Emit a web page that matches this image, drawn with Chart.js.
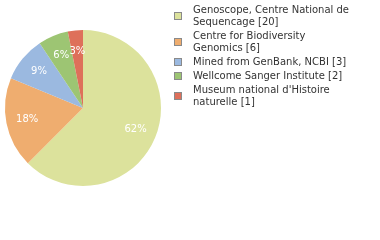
<!DOCTYPE html>
<html>
<head>
<meta charset="utf-8">
<script src="https://cdn.jsdelivr.net/npm/chart.js@4.4.1/dist/chart.umd.min.js"></script>
<style>
  body { margin: 0; background: #fff; }
  #wrap { position: relative; width: 380px; height: 240px; }
  #legend {
    position: absolute; left: 174px; top: 4px; width: 190px;
    font-family: "DejaVu Sans", sans-serif; font-size: 10px; line-height: 12px; color: #333;
  }
  .item { display: flex; align-items: center; margin-bottom: 2px; }
  .box { width: 6px; height: 6px; border: 1px solid #8a8a8a; margin-right: 11px; flex: none; }
  .txt { width: 160px; }
</style>
</head>
<body>
<div id="wrap">
  <canvas id="pie" width="380" height="240"></canvas>
  <div id="legend"></div>
</div>
<script>
// the values
const labels = [
  "Genoscope, Centre National de Sequencage",
  "Centre for Biodiversity Genomics",
  "Mined from GenBank, NCBI",
  "Wellcome Sanger Institute",
  "Museum national d'Histoire naturelle"
];
const counts = [20, 6, 3, 2, 1];
const colours = ["#dce29c", "#efad6f", "#9bb9e0", "#9dc573", "#de705a"];

// white percentage labels inside the slices (truncated, like the original)
const pctLabels = {
  id: "pctLabels",
  afterDatasetsDraw(chart) {
    const ctx = chart.ctx;
    const total = counts.reduce((a, b) => a + b, 0);
    ctx.save();
    ctx.fillStyle = "#fff";
    ctx.font = "10px 'DejaVu Sans'";
    ctx.textAlign = "center";
    ctx.textBaseline = "middle";
    chart.getDatasetMeta(0).data.forEach((arc, i) => {
      const mid = (arc.startAngle + arc.endAngle) / 2;
      const r = arc.outerRadius * 0.73;
      const txt = Math.floor(counts[i] / total * 100) + "%";
      ctx.fillText(txt, arc.x + Math.cos(mid) * r, arc.y + Math.sin(mid) * r);
    });
    ctx.restore();
  }
};

new Chart("pie", {
  type: "pie",
  data: {
    labels: labels,
    datasets: [{
      data: counts,
      backgroundColor: colours,
      borderWidth: 0
    }]
  },
  options: {
    responsive: false,
    animation: false,
    layout: { padding: { left: 5, right: 219, top: 30, bottom: 54 } },
    plugins: { legend: { display: false }, tooltip: { enabled: false } }
  },
  plugins: [pctLabels]
});

// legend on the right, built from the same arrays
const leg = document.getElementById("legend");
labels.forEach((lab, i) => {
  const item = document.createElement("div");
  item.className = "item";
  item.innerHTML = '<div class="box" style="background:' + colours[i] + '"></div>' +
    '<div class="txt">' + lab + ' [' + counts[i] + ']</div>';
  leg.appendChild(item);
});
</script>
</body>
</html>
